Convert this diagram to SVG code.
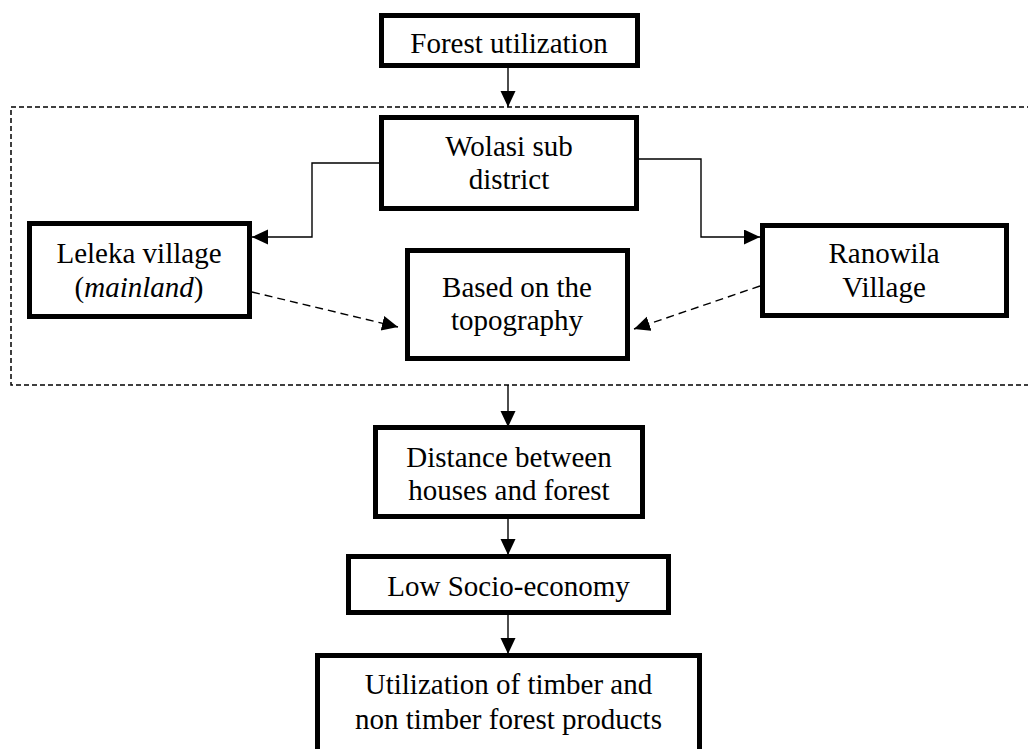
<svg xmlns="http://www.w3.org/2000/svg" width="1028" height="749" viewBox="0 0 1028 749">
<style>
.box{fill:#fff;stroke:#000;stroke-width:5}
.t{font-family:"Liberation Serif","Times New Roman",serif;font-size:29px;fill:#000;text-anchor:middle}
.c{fill:none;stroke:#000;stroke-width:1.4}
.d{fill:none;stroke:#000;stroke-width:1.4;stroke-dasharray:8,5}
.frame{fill:none;stroke:#000;stroke-width:1.5;stroke-dasharray:5,3}
</style>
<defs>
<marker id="ah" markerUnits="userSpaceOnUse" markerWidth="18" markerHeight="16" refX="16" refY="7.5" orient="auto">
<path d="M0,0 L16,7.5 L0,15 z" fill="#000"/>
</marker>
</defs>
<rect width="1028" height="749" fill="#fff"/>
<rect id="frame" class="frame" x="11" y="107" width="1030" height="278"/>
<g id="connectors">
<path class="c" d="M508,68 V107" marker-end="url(#ah)"/>
<path class="c" d="M379,163 H312 V237 H252" marker-end="url(#ah)"/>
<path class="c" d="M639,159 H701 V237 H760" marker-end="url(#ah)"/>
<path class="d" d="M252,292 L398,327" marker-end="url(#ah)"/>
<path class="d" d="M760,286 L634,329" marker-end="url(#ah)"/>
<path class="c" d="M508,385 V427" marker-end="url(#ah)"/>
<path class="c" d="M508,519 V555" marker-end="url(#ah)"/>
<path class="c" d="M508,615 V654" marker-end="url(#ah)"/>
</g>
<g id="forest">
<rect class="box" x="381.5" y="15.5" width="256" height="50"/>
<text class="t" x="509" y="53">Forest utilization</text>
</g>
<g id="wolasi">
<rect class="box" x="381.5" y="117.5" width="255" height="91"/>
<text class="t" x="509" y="156">Wolasi sub</text>
<text class="t" x="509" y="189">district</text>
</g>
<g id="leleka">
<rect class="box" x="29.5" y="223.5" width="220" height="93"/>
<text class="t" x="139" y="263">Leleka village</text>
<text class="t" x="139" y="297">(<tspan font-style="italic">mainland</tspan>)</text>
</g>
<g id="based">
<rect class="box" x="407.5" y="250.5" width="220" height="108"/>
<text class="t" x="517" y="297">Based on the</text>
<text class="t" x="517" y="330">topography</text>
</g>
<g id="ranowila">
<rect class="box" x="762.5" y="225.5" width="244" height="90"/>
<text class="t" x="884" y="263">Ranowila</text>
<text class="t" x="884" y="297">Village</text>
</g>
<g id="distance">
<rect class="box" x="375.5" y="427.5" width="267" height="89"/>
<text class="t" x="509" y="467">Distance between</text>
<text class="t" x="509" y="500">houses and forest</text>
</g>
<g id="lowsocio">
<rect class="box" x="348.5" y="556.5" width="320" height="56"/>
<text class="t" x="508.5" y="596">Low Socio-economy</text>
</g>
<g id="utilization">
<rect class="box" x="317.5" y="655.5" width="382" height="110"/>
<text class="t" x="508.5" y="694">Utilization of timber and</text>
<text class="t" x="508.5" y="729">non timber forest products</text>
</g>
</svg>
